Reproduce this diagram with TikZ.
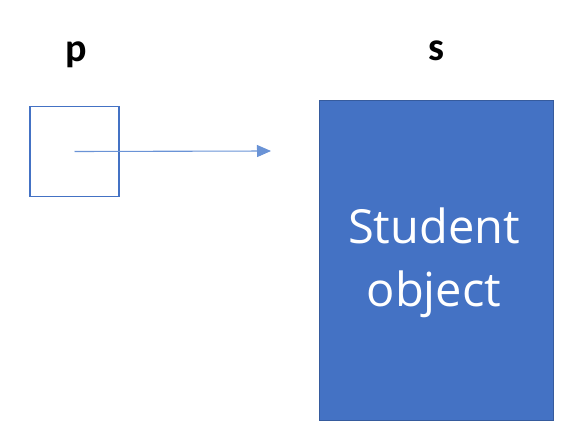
\documentclass[tikz,border=0pt]{standalone}
\usepackage{fontspec}
\setmainfont{Carlito}
\newfontfamily\boxfont{Open Sans}
\usetikzlibrary{arrows.meta}
\definecolor{objblue}{HTML}{4472C4}
\definecolor{arrblue}{HTML}{6A93D6}
\tikzset{
  lbl/.style={font=\fontsize{40}{40}\selectfont\bfseries, text=black, inner sep=0pt},
  refbox/.style={draw=objblue, line width=1.3pt, fill=white, minimum width=89pt, minimum height=90pt, inner sep=0pt},
  objbox/.style={draw=objblue!80!black, line width=0.8pt, fill=objblue, minimum width=234pt, minimum height=320pt, inner sep=0pt},
  objtext/.style={text=white, inner sep=0pt, font=\boxfont\fontsize{47}{60}\selectfont},
  ptr/.style={draw=arrblue, line width=1.1pt, -{Triangle[length=14pt,width=12pt]}}
}
\begin{document}
\begin{tikzpicture}[x=1pt,y=-1pt]
\useasboundingbox (0,0) rectangle (570,433);
\node[lbl, anchor=base] (p) at (76,62) {p};
\node[lbl, anchor=base] (s) at (436,61) {s};
\node[refbox] (box) at (74.5,151.5) {};
\node[objbox] (obj) at (436,260) {};
\node[objtext, anchor=base] (t1) at (434,243) {Student};
\node[objtext, anchor=base] (t2) at (434,306) {object};
\coordinate (tip) at (271,151);
\draw[ptr] (box.center) -- (tip);
\end{tikzpicture}
\end{document}
